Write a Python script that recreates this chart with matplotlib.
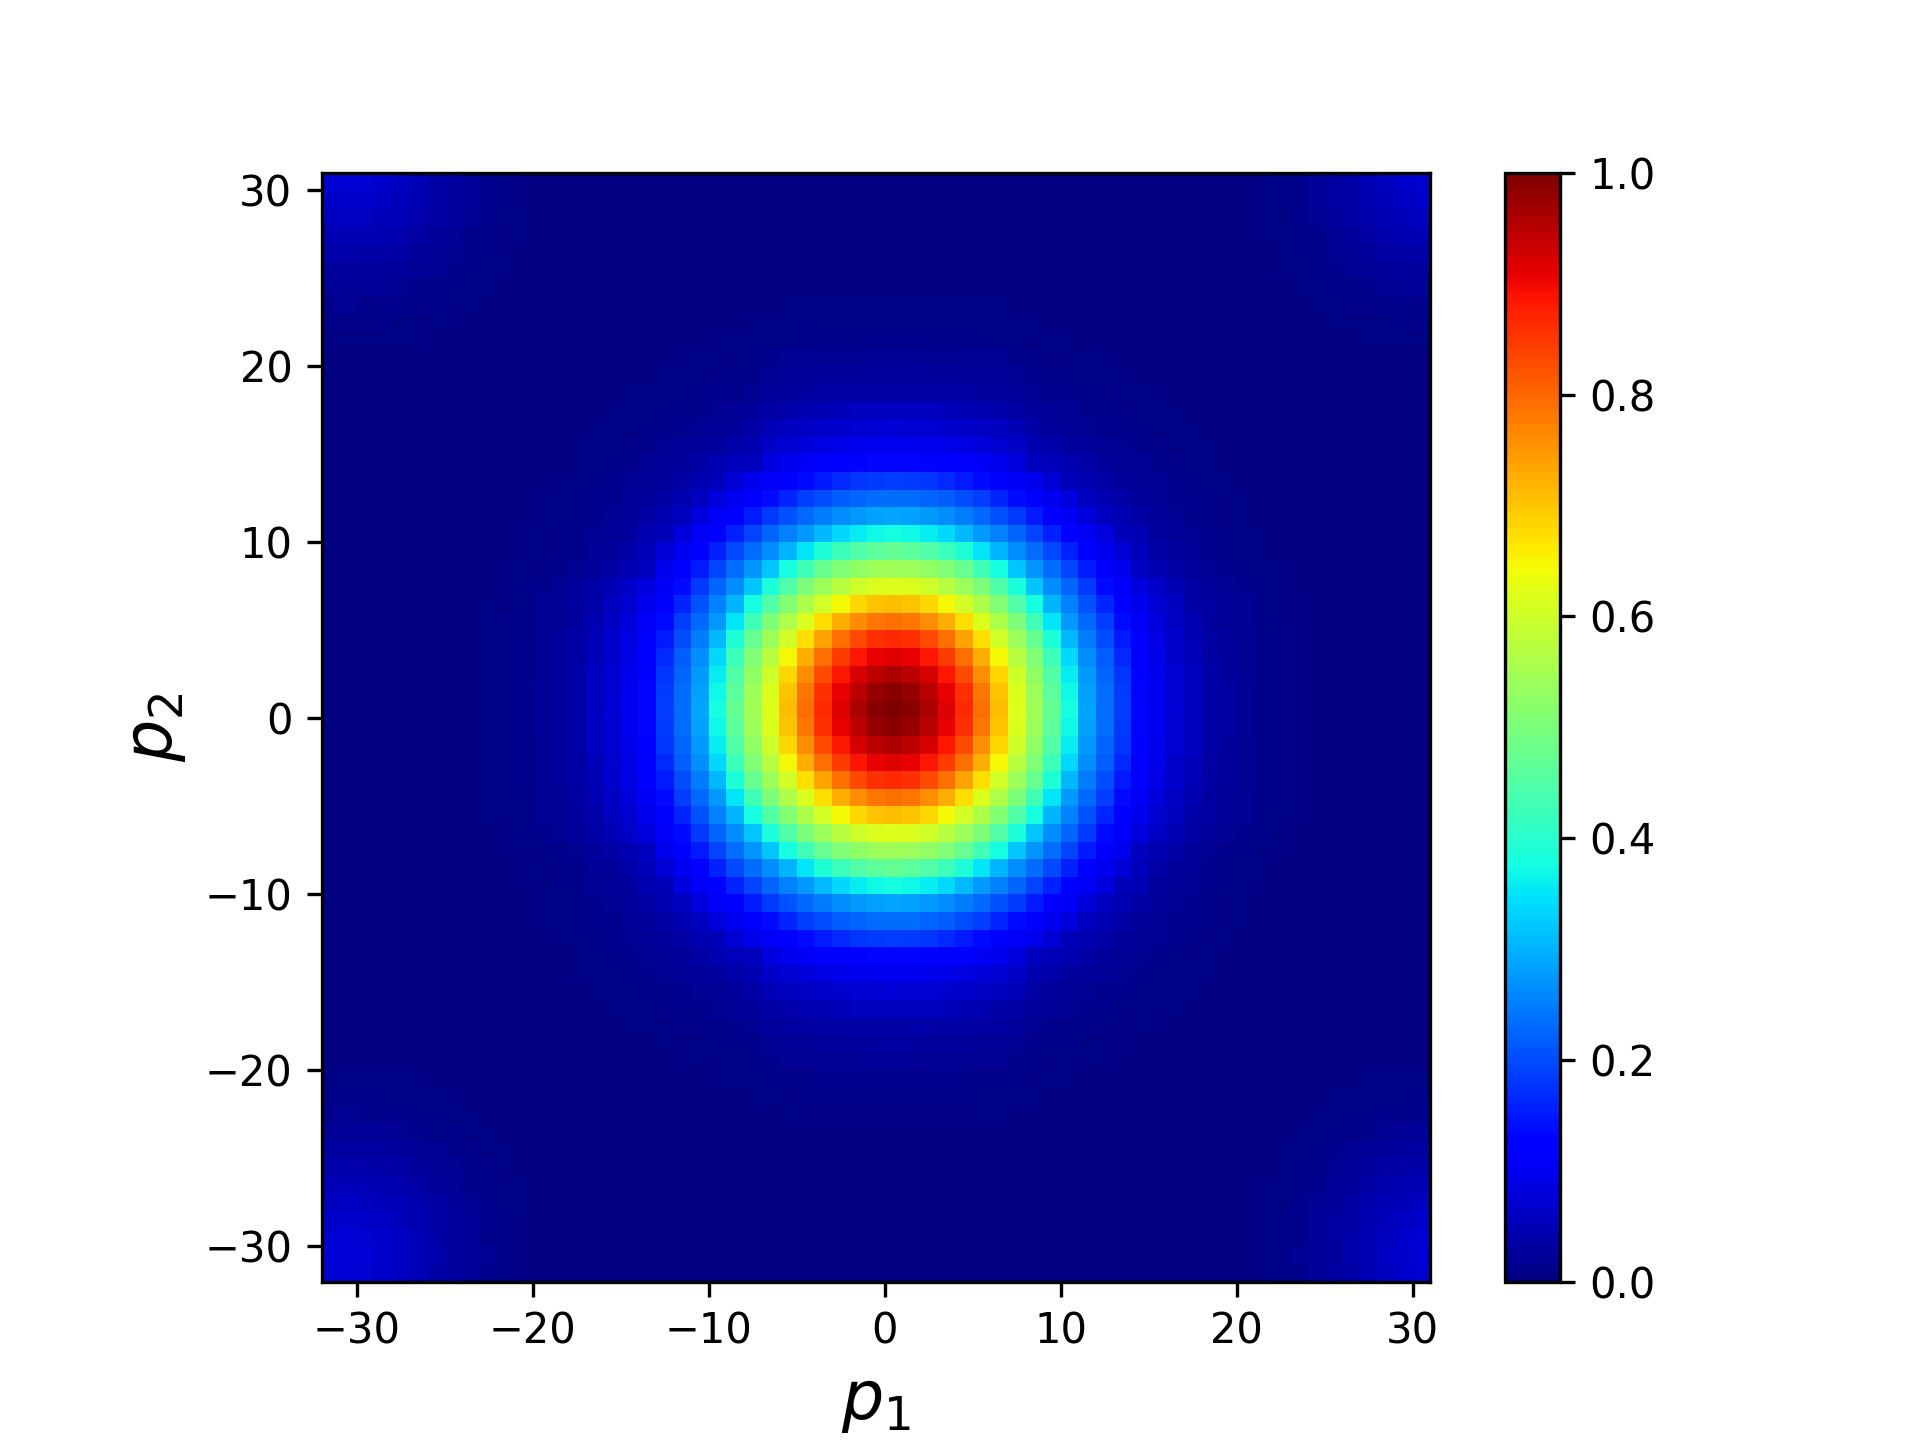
import numpy as np
import matplotlib
matplotlib.use('Agg')
import matplotlib.pyplot as plt

# cell edges along both axes
p_edges = list(range(-32, 32))
centre_index = 32

# values, in thousandths of the colour scale
# row n holds the cells n..32 away from the centre cell, rest is mirrored
row_00 = [1000,990,960,915,865,790,710,620,545,470,375,286,233,184,130,100,75,58,37,28,20,15,9,7,3,2,1,0,0,0,0,0,0]
row_01 = [978,949,907,856,782,703,615,540,464,371,283,231,182,129,99,74,57,37,28,20,15,9,7,3,2,1,0,0,0,0,0,0]
row_02 = [923,885,830,759,681,599,526,449,357,276,225,176,126,97,73,55,36,27,19,14,9,7,3,2,1,0,0,0,0,0,0]
row_03 = [847,790,724,646,573,504,423,336,265,215,166,120,92,70,53,35,26,19,14,9,6,3,2,1,0,0,0,0,0,0]
row_04 = [737,674,604,540,475,389,306,249,200,152,113,87,67,48,33,25,18,13,8,6,3,2,1,0,0,0,0,0,0]
row_05 = [614,559,500,429,348,276,229,184,134,104,80,62,43,31,23,17,11,8,5,2,1,1,0,0,0,0,0,0]
row_06 = [508,449,375,302,251,207,161,120,94,72,56,37,28,21,16,10,7,4,2,1,0,0,0,0,0,0,0]
row_07 = [385,319,265,223,182,136,107,84,66,48,34,25,19,14,9,6,3,2,1,0,0,0,0,0,0,0]
row_08 = [270,231,193,152,117,94,58,46,32,24,17,13,9,6,4,2,1,1,0,0,0,0,0,0,0]
row_09 = [197,160,124,100,76,51,38,27,21,15,11,7,5,3,2,1,0,0,0,0,0,0,0,0]
row_10 = [126,104,84,54,43,29,23,17,13,9,6,4,2,1,0,0,0,0,0,0,0,0,0]
row_11 = [80,55,45,33,26,19,14,11,7,5,3,2,1,0,0,0,0,0,0,0,0,0]
row_12 = [46,35,26,20,15,12,8,6,4,2,1,1,0,0,0,0,0,0,0,0,0]
row_13 = [27,21,16,13,9,6,5,3,2,1,0,0,0,0,0,0,0,0,0,0]
row_14 = [16,13,9,7,5,3,2,1,0,0,0,0,0,0,0,0,0,0,0]
row_15 = [10,7,6,4,2,2,1,0,0,0,0,0,0,0,0,0,0,0]
row_16 = [6,4,3,2,1,0,0,0,0,0,0,0,0,0,0,0,0]
row_17 = [3,2,1,1,0,0,0,0,0,0,0,0,1,1,1,1]
row_18 = [2,1,0,0,0,0,0,0,0,1,1,1,1,1,1]
row_19 = [0,0,0,0,0,0,1,1,2,2,2,2,2,2]
row_20 = [0,0,0,1,1,2,2,2,3,3,3,3,3]
row_21 = [0,1,1,2,2,3,4,5,5,6,6,6]
row_22 = [1,2,3,4,5,6,7,8,9,9,9]
row_23 = [3,4,6,8,10,12,15,15,16,15]
row_24 = [6,8,11,15,19,21,22,23,22]
row_25 = [12,17,21,25,28,30,31,30]
row_26 = [22,27,33,36,39,40,39]
row_27 = [34,40,45,49,50,49]
row_28 = [48,54,58,60,58]
row_29 = [62,68,70,68]
row_30 = [74,76,74]
row_31 = [78,76]
row_32 = [74]

rows = [row_00, row_01, row_02, row_03, row_04, row_05, row_06, row_07, row_08,
        row_09, row_10, row_11, row_12, row_13, row_14, row_15, row_16, row_17,
        row_18, row_19, row_20, row_21, row_22, row_23, row_24, row_25, row_26,
        row_27, row_28, row_29, row_30, row_31, row_32]

table = np.zeros((33, 33))
for n, row in enumerate(rows):
    if len(row) != 33 - n:
        print('bad row', n, len(row))
    for m, v in enumerate(row, n):
        table[n, m] = v / 1000.0
        table[m, n] = v / 1000.0

k = np.abs(np.arange(len(p_edges) - 1) - centre_index)
grid = table[np.ix_(k, k)]

fig = plt.figure(figsize=(6.4, 4.8), dpi=300)
ax = fig.add_subplot(111)
mesh = ax.pcolormesh(p_edges, p_edges, grid, cmap='jet', vmin=0, vmax=1)
ax.set_aspect('equal')
ax.set_xlabel('$p_1$', fontsize=16)
ax.set_ylabel('$p_2$', fontsize=16)
fig.colorbar(mesh, ax=ax)
fig.savefig('out.png', dpi=300)
